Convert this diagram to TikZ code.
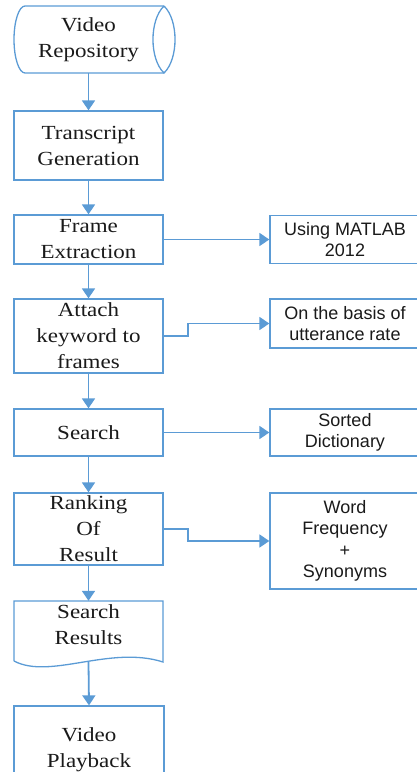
\documentclass[tikz,border=0pt]{standalone}
\usepackage{fontspec}
\usetikzlibrary{arrows.meta}
\newfontfamily\serifface{Liberation Serif}[FakeStretch=1.15]
\newfontfamily\sansface{Liberation Sans}
\definecolor{flow}{HTML}{5B9BD5}
\definecolor{ink}{HTML}{1A1A1A}
\tikzset{
  outline/.style={draw=flow, line width=1.3pt},
  stepbox/.style={outline, rectangle, minimum width=149pt, inner sep=0pt,
    text=ink, align=center, font=\serifface\fontsize{20}{26}\selectfont},
  plainbox/.style={rectangle, minimum width=149pt, inner sep=0pt,
    text=ink, align=center, font=\serifface\fontsize{20}{26}\selectfont},
  notebox/.style={outline, rectangle, minimum width=150pt, inner sep=0pt,
    text=ink, align=center, font=\sansface\fontsize{18}{21.5}\selectfont},
  conn/.style={draw=flow, line width=1.8pt, -{Triangle[width=13pt,length=10pt]}}
}
\begin{document}
\begin{tikzpicture}[x=1pt,y=-1pt]
\useasboundingbox (0,0) rectangle (416,772);

% main column
\node[plainbox, minimum height=67pt] (repo) at (88.5,39.5) {Video\\Repository};
\draw[outline] (164,6) -- (25,6) .. controls (19,6) and (14,21) .. (14,39.5)
  .. controls (14,58) and (19,73) .. (25,73) -- (164,73);
\draw[outline] (164,6) .. controls (149.3,20) and (149.3,59) .. (164,73)
  .. controls (178.7,59) and (178.7,20) .. (164,6);

\node[stepbox, minimum height=69pt] (trans) at (88.5,145.5) {Transcript\\Generation};
\node[stepbox, minimum height=49pt] (frame) at (88.5,239.5) {Frame\\Extraction};
\node[stepbox, minimum height=74pt] (attach) at (88.5,336) {Attach\\keyword to\\frames};
\node[stepbox, minimum height=47pt] (search) at (88.5,432.5) {Search};
\node[stepbox, minimum height=72pt] (rank) at (88.5,529) {Ranking\\Of\\Result};

% document shape with wavy bottom
\node[plainbox, minimum height=61pt] (results) at (88.5,631.5) {};
\draw[outline] (14,661) -- (14,601) -- (163,601) -- (163,662)
  .. controls (110,645) and (50,680) .. (14,661);
\node[plainbox] (resultstext) at (88.5,625) {Search\\Results};

\node[stepbox, minimum width=150pt, minimum height=88pt] (playback) at (89,750) {Video\\Playback};

% side notes
\node[notebox, minimum height=48pt] (matlab) at (345,239.5) {Using MATLAB\\2012};
\node[notebox, minimum height=49pt] (basis) at (345,323.5) {On the basis of\\utterance rate};
\node[notebox, minimum height=47pt] (dict) at (345,432.5) {Sorted\\Dictionary};
\node[notebox, minimum height=96pt] (word) at (345,541) {Word\\Frequency\\+\\Synonyms};

% main flow
\draw[conn] (repo.south) -- (trans.north);
\draw[conn] (trans) -- (frame);
\draw[conn] (frame) -- (attach);
\draw[conn] (attach) -- (search);
\draw[conn] (search) -- (rank);
\draw[conn] (rank) -- (results.north);
\draw[conn] (results.south) -- (playback.north);

% side connectors
\draw[conn] (frame.east) -- (matlab.west);
\draw[conn] (attach.east) -- ++(24,0) |- (basis.west);
\draw[conn] (search.east) -- (dict.west);
\draw[conn] (rank.east) -- ++(24,0) |- (word.west);
\end{tikzpicture}
\end{document}
